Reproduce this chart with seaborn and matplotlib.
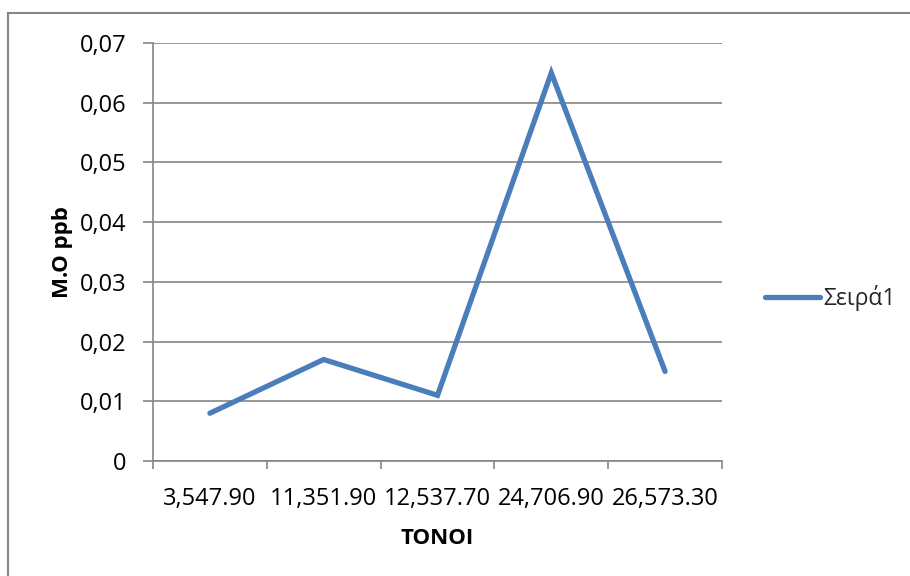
import matplotlib
matplotlib.use('Agg')
import matplotlib.pyplot as plt
import seaborn as sns
import pandas as pd
from matplotlib.patches import Rectangle
from matplotlib.ticker import FixedLocator

# data
categories = ['3,547.90', '11,351.90', '12,537.70', '24,706.90', '26,573.30']
values = [0.008, 0.017, 0.011, 0.065, 0.015]
y_ticks = [0, 0.01, 0.02, 0.03, 0.04, 0.05, 0.06, 0.07]
y_tick_labels = ['0', '0,01', '0,02', '0,03', '0,04', '0,05', '0,06', '0,07']
series_name = 'Σειρά1'

sns.set_style('white')
plt.rcParams['font.family'] = ['Open Sans', 'DejaVu Sans']

df = pd.DataFrame({'x': range(len(categories)), 'y': values, 's': series_name})

fig = plt.figure(figsize=(9.1, 5.76), dpi=100)
ax = fig.add_axes([153 / 910, 1 - 461 / 576, (722 - 153) / 910, (461 - 43) / 576])

sns.lineplot(data=df, x='x', y='y', hue='s', palette=['#4A7EBB'], linewidth=3.8,
             ax=ax, legend=False, solid_capstyle='round', solid_joinstyle='miter')

gray = '#868686'
ax.set_xlim(-0.5, len(categories) - 0.5)
ax.set_ylim(0, 0.07)
ax.set_yticks(y_ticks)
ax.set_yticklabels(y_tick_labels)
ax.yaxis.grid(True, color=gray, linewidth=1.2)
ax.set_axisbelow(True)

ax.set_xticks(range(len(categories)))
ax.set_xticklabels(categories)
ax.xaxis.set_minor_locator(FixedLocator([i - 0.5 for i in range(len(categories) + 1)]))
ax.tick_params(axis='x', which='major', length=0, pad=19, labelsize=17, labelcolor='black')
ax.tick_params(axis='x', which='minor', length=6, width=1.2, color=gray, direction='out', bottom=True)
ax.tick_params(axis='y', length=7, width=1.2, color=gray, direction='out', left=True, pad=12,
               labelsize=17, labelcolor='black')

for s in ['top', 'right']:
    ax.spines[s].set_visible(False)
for s in ['left', 'bottom']:
    ax.spines[s].set_color(gray)
    ax.spines[s].set_linewidth(1.2)

ax.set_xlabel('TONOI', fontsize=16, fontweight='bold', labelpad=12, color='black')
ax.set_ylabel('M.O ppb', fontsize=16, fontweight='bold', labelpad=5, color='black')

handle = plt.Line2D([], [], color='#4A7EBB', linewidth=3.8, solid_capstyle='round')
fig.legend([handle], [series_name], loc='center left', bbox_to_anchor=(754 / 910, 1 - 298 / 576),
           frameon=False, fontsize=16.5, handlelength=2.4, handletextpad=0.1, borderpad=0)

# outer chart border
fig.patches.append(Rectangle((8 / 910, -0.1), 1.2, 1 - 13 / 576 + 0.1, transform=fig.transFigure,
                             fill=False, edgecolor=gray, linewidth=1.5))

fig.savefig('out.png', dpi=100)
